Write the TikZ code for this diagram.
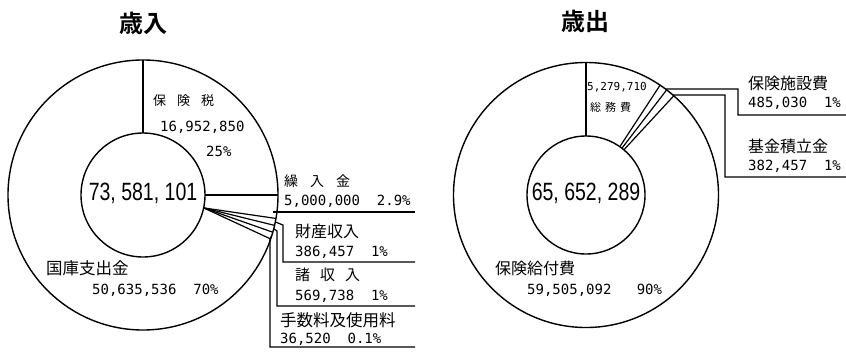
\documentclass[tikz,border=0pt]{standalone}
\usepackage{fontspec}
\usepackage{graphicx}
\newfontfamily\jp{Noto Sans CJK JP}
\newfontfamily\jpb{Noto Sans CJK JP Bold}
\newfontfamily\mono{DejaVu Sans Mono}
\newfontfamily\numf{Liberation Sans}
\newcommand\js[1]{\jp\fontsize{#1}{#1}\selectfont}
\newcommand\ms[1]{\mono\fontsize{#1}{#1}\selectfont}
\newcommand\bignum[1]{\scalebox{0.78}[1]{\numf\fontsize{25}{25}\selectfont #1}}
\tikzset{
  ringline/.style={line width=1.4pt},
  leadline/.style={line width=1.2pt},
  ttl/.style={font=\jpb\fontsize{24}{24}\selectfont, inner sep=0pt},
  jplab/.style={anchor=west, inner sep=0pt, font=\js{16}},
  numlab/.style={anchor=west, inner sep=0pt, font=\ms{14}},
  bigtot/.style={inner sep=0pt},
}
\begin{document}
\begin{tikzpicture}[x=1pt,y=-1pt]
\useasboundingbox[fill=white] (0,0) rectangle (846,354);
% ---------------- left chart ----------------
\coordinate (cL) at (143,195);
\draw[ringline] (cL) circle[radius=135];
\draw[ringline] (cL) circle[radius=62];
\coordinate (lt1) at ([shift={(cL)}]-90:62);
\coordinate (lt2) at ([shift={(cL)}]-90:135);
\draw[ringline] (lt1) -- (lt2);
\coordinate (lh1) at ([shift={(cL)}]0:62);
\coordinate (lh2) at ([shift={(cL)}]0:135);
\draw[ringline] (lh1) -- (lh2);
\coordinate (F) at ([shift={(cL)}]12:62);
\foreach \a/\n in {10/a,13/b,16/c,19/d}{
  \coordinate (fan\n) at ([shift={(cL)}]\a:135);
  \draw[leadline] (F) -- (fan\n);
}
% leaders
\coordinate (k0) at (273,212);
\coordinate (k1) at (415,212);
\draw[leadline] (k0) -- (k1);
\coordinate (z0) at ([shift={(cL)}]11.5:135);
\coordinate (z1) at (283,225);
\coordinate (z2) at (283,262);
\coordinate (z3) at (415,262);
\draw[leadline] (z0) -- (z1) -- (z2) -- (z3);
\coordinate (s0) at ([shift={(cL)}]14.5:135);
\coordinate (s1) at (277,231);
\coordinate (s2) at (277,306);
\coordinate (s3) at (415,306);
\draw[leadline] (s0) -- (s1) -- (s2) -- (s3);
\coordinate (t0) at ([shift={(cL)}]17.5:135);
\coordinate (t1) at (270,239);
\coordinate (t2) at (270,347);
\coordinate (t3) at (415,347);
\draw[leadline] (t0) -- (t1) -- (t2) -- (t3);
% texts
\node[ttl] (tL) at (143,23) {歳入};
\node[jplab, font=\js{13}] (hk) at (153,101) {保\hspace{11pt}険\hspace{11pt}税};
\node[numlab] (hkn) at (160,127) {16,952,850};
\node[numlab] (hkp) at (206,151) {25\%};
\node[bigtot] (totL) at (143,193) {\bignum{73, 581, 101}};
\node[jplab, font=\js{14}] (kr) at (284,181) {繰\hspace{12pt}入\hspace{12pt}金};
\node[numlab] (krn) at (284,201) {5,000,000~~2.9\%};
\node[jplab] (zs) at (295,231) {財産収入};
\node[numlab] (zsn) at (295,252) {386,457~~1\%};
\node[jplab, font=\js{15}] (sy) at (295,275) {諸\hspace{10pt}収\hspace{10pt}入};
\node[numlab] (syn) at (295,296) {569,738~~1\%};
\node[jplab, font=\js{16.5}] (te) at (280,320) {手数料及使用料};
\node[numlab] (ten) at (280,339) {36,520~~0.1\%};
\node[jplab, font=\js{16.5}] (kk) at (46,268) {国庫支出金};
\node[numlab] (kkn) at (92,290) {50,635,536~~70\%};
% ---------------- right chart ----------------
\coordinate (cR) at (586,195);
\draw[ringline] (cR) circle[radius=132.5];
\draw[ringline] (cR) circle[radius=59];
\coordinate (rt1) at ([shift={(cR)}]-90:59);
\coordinate (rt2) at ([shift={(cR)}]-90:132.5);
\draw[ringline] (rt1) -- (rt2);
\foreach \i/\o/\n in {-55/-56/a,-52.5/-52.5/b,-50/-48.5/c}{
  \coordinate (ri\n) at ([shift={(cR)}]\i:59);
  \coordinate (ro\n) at ([shift={(cR)}]\o:132.5);
  \draw[leadline] (ri\n) -- (ro\n);
}
\coordinate (p0) at ([shift={(cR)}]-53.1:132.5);
\coordinate (p1) at (738,89);
\coordinate (p2) at (738,115);
\coordinate (p3) at (846,115);
\draw[leadline] (p0) -- (p1) -- (p2) -- (p3);
\coordinate (b0) at ([shift={(cR)}]-49:132.5);
\coordinate (b1) at (725,95);
\coordinate (b2) at (725,177);
\coordinate (b3) at (846,177);
\draw[leadline] (b0) -- (b1) -- (b2) -- (b3);
\node[ttl] (tR) at (585,21) {歳出};
\node[numlab, font=\ms{11}] (smn) at (587,87) {5,279,710};
\node[jplab, font=\js{11}] (sm) at (590,107) {総\hspace{4pt}務\hspace{4pt}費};
\node[bigtot] (totR) at (586,193) {\bignum{65, 652, 289}};
\node[jplab] (hs) at (748,83) {保険施設費};
\node[numlab] (hsn) at (748,103) {485,030~~1\%};
\node[jplab] (kt) at (748,146) {基金積立金};
\node[numlab] (ktn) at (748,166) {382,457~~1\%};
\node[jplab] (hk2) at (495,268) {保険給付費};
\node[numlab] (hk2n) at (527,290) {59,505,092~~~90\%};
\end{tikzpicture}
\end{document}
